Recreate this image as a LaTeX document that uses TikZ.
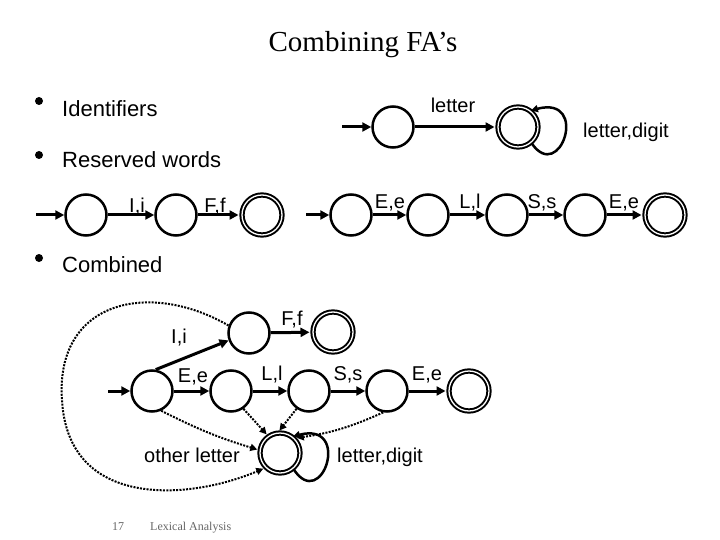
\documentclass[tikz,border=0pt]{standalone}
\usepackage{fontspec}
\setmainfont{Liberation Serif}
\newfontfamily\lsans{Liberation Sans}
\usetikzlibrary{arrows.meta}
\begin{document}
\begin{tikzpicture}[x=1pt,y=-1pt,
 st/.style={circle,draw,line width=2.5pt,minimum size=41pt,inner sep=0pt},
 acc/.style={circle,draw,line width=2pt,double,double distance=1.3pt,minimum size=40pt,inner sep=0pt},
 tr/.style={line width=3pt,-{Triangle[length=9pt,width=9pt]}},
 dt/.style={line width=2pt,dash pattern=on 2pt off 1.3pt,-{Triangle[length=7pt,width=7pt]}},
 lp/.style={line width=2.5pt,-{Triangle[length=7pt,width=7pt]}},
 lab/.style={font=\lsans\fontsize{20}{24}\selectfont,anchor=base,inner sep=0pt},
 bul/.style={font=\lsans\fontsize{22}{26}\selectfont,anchor=base west,inner sep=0pt},
 dot/.style={circle,fill,inner sep=0pt,minimum size=8pt},
]
\useasboundingbox (0,0) rectangle (720,540);
% title
\node[font=\fontsize{29}{34}\selectfont,anchor=base,inner sep=0pt] (title) at (363,52) {Combining FA’s};
% bullets
\node[dot] (b1) at (39,101) {};
\node[dot] (b2) at (39,155) {};
\node[dot] (b3) at (39,258) {};
\node[bul] (t1) at (62,117) {Identifiers};
\node[bul] (t2) at (62,168) {Reserved words};
\node[bul] (t3) at (62,272) {Combined};

% identifier FA
\coordinate (idst) at (342,127);
\node[st] (id0) at (393,127) {};
\node[acc] (id1) at (518,127) {};
\draw[tr] (idst) -- (id0);
\draw[tr,shorten >=2.5pt] (id0) -- (id1);
\node[lab] (lid) at (453,113) {letter};
\draw[lp] (id1.-50) .. controls (560,185) and (590,95) .. (id1.52);
\node[lab,anchor=base west] (lidd) at (583,138) {letter,digit};

% reserved word IF
\coordinate (rst) at (36,215);
\node[st] (r0) at (86,215) {};
\node[st] (r1) at (176,215) {};
\node[acc] (r2) at (262,215) {};
\draw[tr] (rst) -- (r0);
\draw[tr] (r0) -- (r1);
\draw[tr,shorten >=2.5pt] (r1) -- (r2);
\node[lab] (lr1) at (137,213) {I,i};
\node[lab] (lr2) at (215,213) {F,f};

% reserved word ELSE
\coordinate (sst) at (306,215);
\node[st] (s0) at (351,215) {};
\node[st] (s1) at (428,215) {};
\node[st] (s2) at (507,215) {};
\node[st] (s3) at (585,215) {};
\node[acc] (s4) at (665,215) {};
\draw[tr] (sst) -- (s0);
\draw[tr] (s0) -- (s1);
\draw[tr] (s1) -- (s2);
\draw[tr] (s2) -- (s3);
\draw[tr,shorten >=2.5pt] (s3) -- (s4);
\node[lab] (ls1) at (390,208) {E,e};
\node[lab] (ls2) at (470,208) {L,l};
\node[lab] (ls3) at (542,208) {S,s};
\node[lab] (ls4) at (624,208) {E,e};

% combined
\coordinate (cst) at (108,391);
\node[st] (c0) at (152,391) {};
\node[st] (ci) at (249,333) {};
\node[acc] (cf) at (333,332) {};
\node[st] (c1) at (231,391) {};
\node[st] (c2) at (309,391) {};
\node[st] (c3) at (387,391) {};
\node[acc] (ce) at (469,391) {};
\node[acc] (cid) at (280,453) {};
\draw[tr] (cst) -- (c0);
\draw[tr] (c0.80) -- (ci.200);
\draw[tr,shorten >=2.5pt] (ci) -- (cf);
\draw[tr] (c0) -- (c1);
\draw[tr] (c1) -- (c2);
\draw[tr] (c2) -- (c3);
\draw[tr,shorten >=2.5pt] (c3) -- (ce);
\node[lab] (lc1) at (179,343) {I,i};
\node[lab] (lc2) at (292,325) {F,f};
\node[lab] (lc3) at (193,382) {E,e};
\node[lab] (lc4) at (272,380) {L,l};
\node[lab] (lc5) at (348,380) {S,s};
\node[lab] (lc6) at (427,380) {E,e};
% dotted transitions to identifier state
\draw[dt,shorten >=2pt] (c0.-65) to[bend right=5] (cid.172);
\draw[dt,shorten >=2pt] (c1.-55) -- (cid.125);
\draw[dt,shorten >=2pt] (c2.-125) -- (cid.95);
\draw[dt,shorten >=2pt] (c3.-100) to[bend left=8] (cid.45);
\draw[dt,shorten >=2pt] (ci.160) .. controls (150,280) and (55,300) .. (62,400)
   .. controls (68,510) and (190,500) .. (cid.-135);
\draw[lp] (cid.-50) .. controls (322,513) and (352,421) .. (cid.52);
\node[lab,anchor=base east] (lol) at (240,462) {other letter};
\node[lab,anchor=base west] (lld) at (337,462) {letter,digit};

% footer
\node[font=\fontsize{12}{14}\selectfont,text=black!60,anchor=base,inner sep=0pt] (pg) at (118,530) {17};
\node[font=\fontsize{12}{14}\selectfont,text=black!60,anchor=base west,inner sep=0pt] (ft) at (150,530) {Lexical Analysis};
\end{tikzpicture}
\end{document}
